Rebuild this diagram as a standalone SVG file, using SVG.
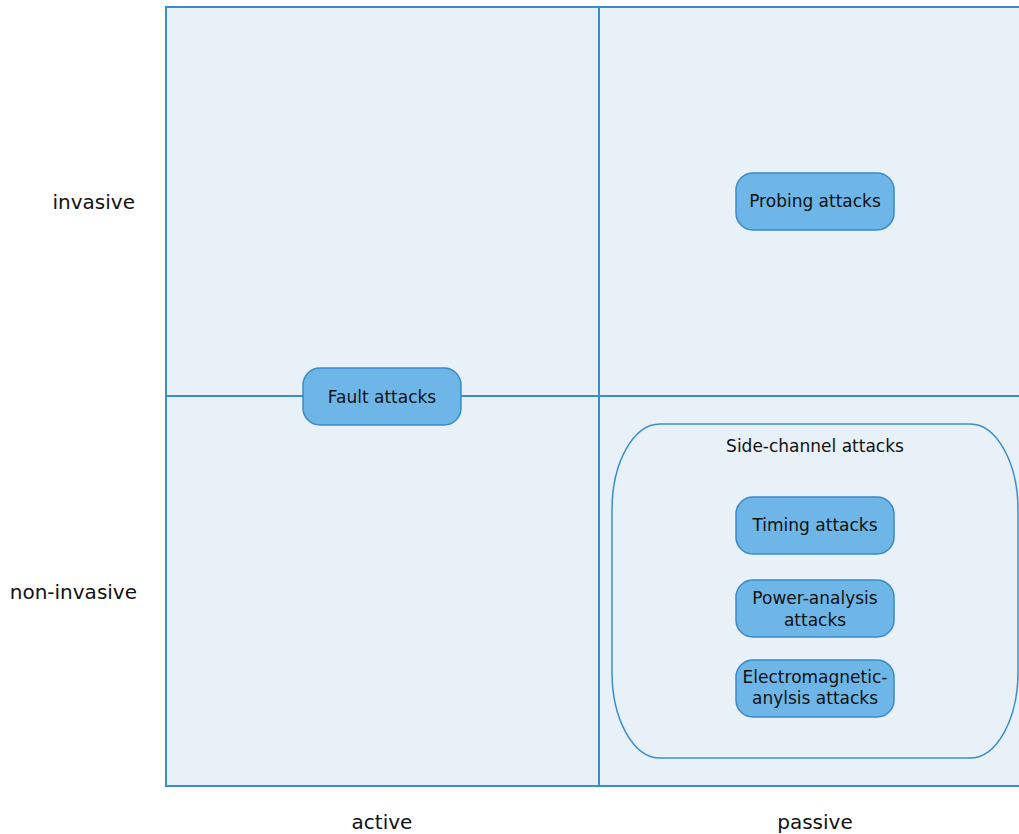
<svg xmlns="http://www.w3.org/2000/svg" width="1019" height="834" viewBox="0 0 1019 834">
<style>
.cell{fill:#e8f0f8;stroke:#3b8ecb;stroke-width:2}
.node{fill:#6eb6e8;stroke:#3a8ac6;stroke-width:1.5}
.t{font-family:"DejaVu Sans",sans-serif;font-size:17px;fill:#111;text-anchor:middle}
.ax{font-family:"DejaVu Sans",sans-serif;font-size:20px;fill:#111}
</style>
<rect width="1019" height="834" fill="#fff"/>
<g id="quadrants">
<rect class="cell" x="166" y="7" width="433" height="389"/>
<rect class="cell" x="599" y="7" width="433" height="389"/>
<rect class="cell" x="166" y="396" width="433" height="390"/>
<rect class="cell" x="599" y="396" width="433" height="390"/>
</g>
<g id="axis-labels">
<text class="ax" x="135" y="209" text-anchor="end">invasive</text>
<text class="ax" x="137" y="599" text-anchor="end">non-invasive</text>
<text class="ax" x="382" y="829" text-anchor="middle">active</text>
<text class="ax" x="815" y="829" text-anchor="middle">passive</text>
</g>
<g id="side-channel">
<path d="M660,424 H970 A48,86 0 0 1 1018,510 V672 A48,86 0 0 1 970,758 H660 A48,86 0 0 1 612,672 V510 A48,86 0 0 1 660,424 Z" fill="#e8f0f8" stroke="#3b8ecb" stroke-width="1.5"/>
<text class="t" x="815" y="452">Side-channel attacks</text>
</g>
<g id="probing">
<rect class="node" x="736" y="173" width="158" height="57" rx="17"/>
<text class="t" x="815" y="207">Probing attacks</text>
</g>
<g id="fault">
<rect class="node" x="303" y="368" width="158" height="57" rx="17"/>
<text class="t" x="382" y="403">Fault attacks</text>
</g>
<g id="timing">
<rect class="node" x="736" y="497" width="158" height="57" rx="17"/>
<text class="t" x="815" y="531">Timing attacks</text>
</g>
<g id="power">
<rect class="node" x="736" y="580" width="158" height="57" rx="17"/>
<text class="t" x="815" y="604">Power-analysis</text>
<text class="t" x="815" y="626">attacks</text>
</g>
<g id="em">
<rect class="node" x="736" y="660" width="158" height="57" rx="17"/>
<text class="t" x="815" y="683">Electromagnetic-</text>
<text class="t" x="815" y="704">anylsis attacks</text>
</g>
</svg>
